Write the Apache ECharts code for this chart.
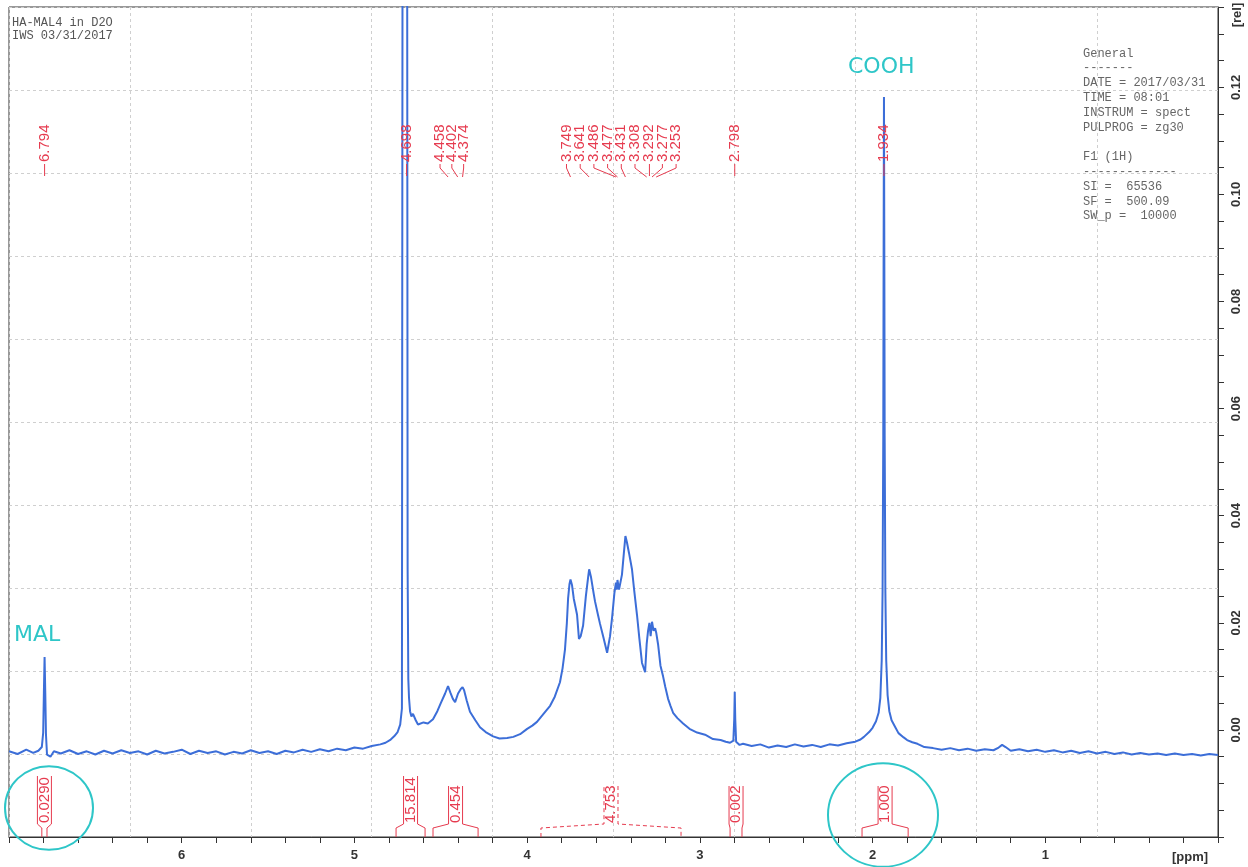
<!DOCTYPE html>
<html>
<head>
<meta charset="utf-8">
<script src="https://cdn.jsdelivr.net/npm/echarts@6/dist/echarts.min.js"></script>
<style>
  html, body { margin: 0; padding: 0; background: #fff; }
  #nmr { width: 1248px; height: 867px; }
</style>
</head>
<body>
<div id="nmr"></div>
<script>
// 1H NMR of HA-MAL4 in D2O, 500 MHz
// spectrum: [ppm, rel. intensity]
const spectrum = [
  // left baseline + MAL singlet
  [7.00, -0.0040], [6.95, -0.0045], [6.90, -0.0037], [6.86, -0.0043], [6.83, -0.0039],
  [6.81, -0.0032], [6.802, -0.0005], [6.798, 0.0070], [6.794, 0.0136], [6.790, 0.0070],
  [6.786, -0.0008], [6.78, -0.0046], [6.76, -0.0050], [6.74, -0.0040], [6.70, -0.0044],
  [6.65, -0.0038], [6.60, -0.0045], [6.55, -0.0040], [6.50, -0.0046], [6.45, -0.0039],
  [6.40, -0.0044], [6.35, -0.0038], [6.30, -0.0043], [6.25, -0.0040], [6.20, -0.0046],
  [6.15, -0.0039], [6.10, -0.0044], [6.05, -0.0041], [6.00, -0.0037], [5.95, -0.0045],
  [5.90, -0.0039], [5.85, -0.0043], [5.80, -0.0040], [5.75, -0.0046], [5.70, -0.0041],
  [5.65, -0.0044], [5.60, -0.0038], [5.55, -0.0043], [5.50, -0.0040], [5.45, -0.0045],
  [5.40, -0.0039], [5.35, -0.0042], [5.30, -0.0037], [5.25, -0.0041], [5.20, -0.0036],
  [5.15, -0.0040], [5.10, -0.0035], [5.05, -0.0038], [5.00, -0.0033], [4.95, -0.0035],
  // HDO
  [4.90, -0.0030], [4.85, -0.0027], [4.82, -0.0024], [4.79, -0.0018], [4.77, -0.0012],
  [4.75, -0.0004], [4.735, 0.0010], [4.725, 0.0040], [4.719, 0.2500], [4.697, 0.2500],
  [4.692, 0.0300], [4.688, 0.0095], [4.684, 0.0060], [4.678, 0.0035], [4.67, 0.0025],
  [4.661, 0.0030], [4.645, 0.0018], [4.632, 0.0010], [4.60, 0.0014], [4.575, 0.0012],
  // 4.4 ppm multiplet
  [4.545, 0.0020], [4.52, 0.0035], [4.50, 0.0050], [4.475, 0.0068], [4.458, 0.0082],
  [4.445, 0.0070], [4.43, 0.0058], [4.417, 0.0052], [4.40, 0.0068], [4.385, 0.0076],
  [4.374, 0.0080], [4.365, 0.0074], [4.35, 0.0055], [4.331, 0.0034], [4.30, 0.0018],
  [4.273, 0.0005], [4.24, -0.0004], [4.197, -0.0012], [4.16, -0.0016], [4.116, -0.0015],
  [4.08, -0.0013], [4.041, -0.0008], [4.00, 0.0002], [3.97, 0.0008], [3.943, 0.0015],
  // HA backbone 3.2 - 3.8 ppm
  [3.91, 0.0028], [3.885, 0.0038], [3.867, 0.0045], [3.84, 0.0062], [3.81, 0.0089],
  [3.795, 0.0115], [3.781, 0.0150], [3.77, 0.0200], [3.763, 0.0245], [3.755, 0.0272],
  [3.749, 0.0281], [3.74, 0.0270], [3.73, 0.0245], [3.711, 0.0215], [3.70, 0.0170],
  [3.69, 0.0175], [3.676, 0.0195], [3.66, 0.0250], [3.647, 0.0285], [3.641, 0.0300],
  [3.63, 0.0285], [3.615, 0.0255], [3.607, 0.0240], [3.59, 0.0215], [3.578, 0.0198],
  [3.56, 0.0175], [3.537, 0.0144], [3.52, 0.0175], [3.508, 0.0210], [3.495, 0.0255],
  [3.486, 0.0275], [3.481, 0.0262], [3.477, 0.0280], [3.468, 0.0262], [3.451, 0.0290],
  [3.44, 0.0330], [3.431, 0.0362], [3.422, 0.0350], [3.41, 0.0330], [3.393, 0.0300],
  [3.38, 0.0260], [3.364, 0.0215], [3.35, 0.0170], [3.335, 0.0125], [3.317, 0.0108],
  [3.308, 0.0160], [3.300, 0.0185], [3.292, 0.0200], [3.285, 0.0175], [3.277, 0.0202],
  [3.268, 0.0185], [3.259, 0.0190], [3.253, 0.0182], [3.242, 0.0160], [3.228, 0.0120],
  [3.213, 0.0100], [3.20, 0.0080], [3.184, 0.0058], [3.17, 0.0045], [3.155, 0.0032],
  [3.13, 0.0022], [3.097, 0.0012], [3.06, 0.0002], [3.016, -0.0005], [2.97, -0.0009],
  // small singlet 2.798
  [2.924, -0.0017], [2.88, -0.0019], [2.85, -0.0022], [2.825, -0.0024], [2.806, -0.0020],
  [2.801, 0.0020], [2.798, 0.0071], [2.795, 0.0020], [2.79, -0.0022], [2.77, -0.0028],
  [2.75, -0.0026], [2.70, -0.0030], [2.65, -0.0027], [2.60, -0.0033], [2.55, -0.0029],
  [2.50, -0.0032], [2.45, -0.0027], [2.40, -0.0031], [2.35, -0.0028], [2.30, -0.0032],
  [2.25, -0.0027], [2.20, -0.0029], [2.15, -0.0025], [2.10, -0.0022], [2.07, -0.0018],
  // acetyl / COOH 1.934
  [2.05, -0.0013], [2.02, -0.0004], [2.00, 0.0004], [1.98, 0.0016], [1.965, 0.0032],
  [1.955, 0.0060], [1.947, 0.0130], [1.942, 0.0260], [1.938, 0.0550], [1.936, 0.0900],
  [1.934, 0.1182], [1.932, 0.0900], [1.930, 0.0550], [1.926, 0.0260], [1.921, 0.0130],
  [1.913, 0.0065], [1.903, 0.0035], [1.89, 0.0018], [1.87, 0.0006], [1.85, -0.0006],
  [1.82, -0.0014], [1.80, -0.0019], [1.77, -0.0023], [1.74, -0.0026], [1.70, -0.0032],
  // right baseline
  [1.65, -0.0034], [1.60, -0.0037], [1.55, -0.0034], [1.50, -0.0038], [1.45, -0.0035],
  [1.40, -0.0039], [1.35, -0.0036], [1.30, -0.0038], [1.27, -0.0033], [1.25, -0.0028],
  [1.23, -0.0032], [1.20, -0.0039], [1.15, -0.0036], [1.10, -0.0040], [1.05, -0.0037],
  [1.00, -0.0041], [0.95, -0.0038], [0.90, -0.0042], [0.85, -0.0039], [0.80, -0.0043],
  [0.75, -0.0040], [0.70, -0.0044], [0.65, -0.0041], [0.60, -0.0045], [0.55, -0.0042],
  [0.50, -0.0046], [0.45, -0.0043], [0.40, -0.0046], [0.35, -0.0044], [0.30, -0.0047],
  [0.25, -0.0044], [0.20, -0.0047], [0.15, -0.0045], [0.10, -0.0048], [0.05, -0.0045],
  [0.00, -0.0047]
];

// peak picking (ppm)
const peakShifts = [6.794, 4.698, 4.458, 4.402, 4.374, 3.749, 3.641, 3.486, 3.477,
                    3.431, 3.308, 3.292, 3.277, 3.253, 2.798, 1.934];

// integrals: ranges (ppm) and the printed values
const integralFrom = [6.81, 4.759, 4.545, 3.920, 2.825, 2.061];
const integralTo   = [6.78, 4.591, 4.284, 3.109, 2.756, 1.794];
const integralText = ['0.0290', '15.814', '0.454', '4.753', '0.002', '1.000'];

const paramLines = ['General', '-------', 'DATE = 2017/03/31', 'TIME = 08:01',
  'INSTRUM = spect', 'PULPROG = zg30', '', 'F1 (1H)', '-------------',
  'SI =  65536', 'SF =  500.09', 'SW_p =  10000'];

const RED = '#e63b4f';
const CYAN = '#2ec6c8';
const AXIS = '#333';
const MONO = '"Liberation Mono", "DejaVu Sans Mono", monospace';
const SANS = '"Liberation Sans", Arial, sans-serif';

const chart = echarts.init(document.getElementById('nmr'));

const hiddenGrid = {
    type: 'value', min: 0, max: 10, interval: 1,
    axisLine: { show: false }, axisTick: { show: false }, axisLabel: { show: false },
    splitLine: { show: true, lineStyle: { color: '#cfcfcf', width: 1, type: [3, 3] } }
};

chart.setOption({
    animation: false,
    backgroundColor: '#fff',
    grid: { left: 9, right: 30, top: 7, bottom: 30, show: true, borderColor: AXIS, borderWidth: 1 },
    xAxis: [{
        type: 'value', inverse: true, min: 0, max: 7, interval: 0.2, position: 'bottom',
        axisLine: { show: true, onZero: false, lineStyle: { color: AXIS } },
        axisTick: { show: true, length: 6, lineStyle: { color: AXIS } },
        splitLine: { show: false },
        axisLabel: {
            margin: 12, fontSize: 13, fontWeight: 'bold', color: AXIS, fontFamily: SANS,
            formatter: v => {
                const r = Math.round(v);
                return (Math.abs(v - r) < 1e-6 && r >= 1 && r <= 6) ? String(r) : '';
            }
        }
    }, Object.assign({ position: 'top' }, hiddenGrid)],
    yAxis: [{
        type: 'value', min: -0.02, max: 0.135, interval: 0.005, position: 'right',
        axisLine: { show: true, onZero: false, lineStyle: { color: AXIS } },
        axisTick: { show: true, length: 6, lineStyle: { color: AXIS } },
        splitLine: { show: false },
        axisLabel: {
            rotate: 90, margin: 12, fontSize: 13, fontWeight: 'bold', color: AXIS, fontFamily: SANS,
            formatter: v => {
                const k = v / 0.02;
                if (Math.abs(k - Math.round(k)) > 1e-6 || v < -0.001 || v > 0.125) return '';
                return Math.abs(v) < 1e-9 ? '0.00' : v.toFixed(2);
            }
        }
    }, Object.assign({ position: 'left' }, hiddenGrid)],
    series: [{
        type: 'line',
        xAxisIndex: 0, yAxisIndex: 0,
        data: spectrum,
        symbol: 'none',
        clip: true,
        lineStyle: { color: '#3c6ed8', width: 2 }
    }]
});

// annotation layer, placed through the ppm axis
const px = p => chart.convertToPixel({ xAxisIndex: 0 }, p);
const g = [];

function vtext(x, yBottom, text, color, font) {
    g.push({
        type: 'text', x: x, y: yBottom, rotation: Math.PI / 2, z: 100,
        style: { text: text, fill: color, font: font, align: 'left', verticalAlign: 'middle',
                 textAlign: 'left', textVerticalAlign: 'middle' }
    });
}
function pline(points, color, dash) {
    g.push({ type: 'polyline', z: 100, shape: { points: points },
             style: { stroke: color, lineWidth: 1, fill: null, lineDash: dash || null } });
}

// peak labels; clustered picks are fanned out
const clusters = [{ from: 2, to: 4, offset: -8, step: 11.8 }, { from: 5, to: 13, offset: -4, step: 13.7 }];
peakShifts.forEach((p, i) => {
    const xp = px(p);
    let xl = xp;
    clusters.forEach(c => {
        if (i >= c.from && i <= c.to) xl = px(peakShifts[c.from]) + c.offset + (i - c.from) * c.step;
    });
    vtext(xl, 162, p.toFixed(3), RED, '15px ' + SANS);
    if (Math.abs(xl - xp) < 1) pline([[xp, 164], [xp, 176]], RED);
    else pline([[xl, 164], [xl, 168], [xp, 177]], RED);
});

// integral brackets
integralText.forEach((t, i) => {
    const x1 = px(integralFrom[i]), x2 = px(integralTo[i]);
    const cx = (x1 + x2) / 2;
    const top = t.length > 5 ? 776 : 786;
    const dash = i === 3 ? [4, 3] : null;
    pline([[x1, 837], [x1, 828], [cx - 7, 824], [cx - 7, top]], RED, dash);
    pline([[cx + 7, top], [cx + 7, 824], [x2, 828], [x2, 837]], RED, dash);
    vtext(cx, 823, t, RED, '15px ' + SANS);
});

// header texts
g.push({ type: 'text', x: 12, y: 16, z: 100,
         style: { text: 'HA-MAL4 in D2O\nIWS 03/31/2017', fill: '#555', font: '12px ' + MONO,
                  lineHeight: 13, align: 'left', verticalAlign: 'top' } });
g.push({ type: 'text', x: 1083, y: 46, z: 100,
         style: { text: paramLines.join('\n'), fill: '#666', font: '12px ' + MONO,
                  lineHeight: 14.8, align: 'left', verticalAlign: 'top' } });
g.push({ type: 'text', x: 1190, y: 857, z: 100,
         style: { text: '[ppm]', fill: AXIS, font: 'bold 13px ' + SANS, align: 'center', verticalAlign: 'middle' } });
g.push({ type: 'text', x: 1237, y: 15, rotation: Math.PI / 2, z: 100,
         style: { text: '[rel]', fill: AXIS, font: 'bold 13px ' + SANS, align: 'center', verticalAlign: 'middle' } });

// handwritten notes on the printout
g.push({ type: 'text', x: 14, y: 635, z: 100,
         style: { text: 'MAL', fill: CYAN, font: '22px "DejaVu Sans"', align: 'left', verticalAlign: 'middle' } });
g.push({ type: 'text', x: 848, y: 67, z: 100,
         style: { text: 'COOH', fill: CYAN, font: '22px "DejaVu Sans"', align: 'left', verticalAlign: 'middle' } });
g.push({ type: 'circle', x: 49, y: 808, scaleY: 0.95, z: 100,
         shape: { cx: 0, cy: 0, r: 44 }, style: { stroke: CYAN, lineWidth: 2, fill: null } });
g.push({ type: 'circle', x: 883, y: 815, scaleY: 0.94, z: 100,
         shape: { cx: 0, cy: 0, r: 55 }, style: { stroke: CYAN, lineWidth: 2, fill: null } });

chart.setOption({ graphic: g });

window.addEventListener('resize', () => chart.resize());
</script>
</body>
</html>
